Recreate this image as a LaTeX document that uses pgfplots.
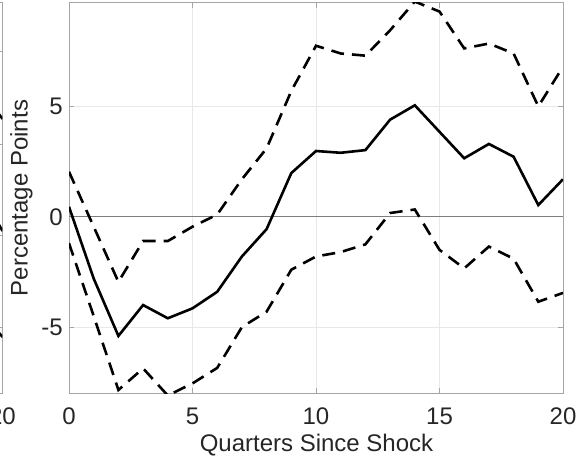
\documentclass[border=0pt]{standalone}
\usepackage{pgfplots}
\pgfplotsset{compat=1.18}
\usepackage{fontspec}
\setmainfont{Liberation Sans}
\definecolor{boxc}{RGB}{165,165,165}
\definecolor{gridc}{RGB}{232,232,232}
\definecolor{zeroc}{RGB}{125,125,125}
\definecolor{txtc}{RGB}{38,38,38}
\pgfplotstableread{
x mid upper lower
0 0.45 2.04 -1.2
1 -2.8 -0.45 -4.5
2 -5.4 -2.95 -7.85
3 -4.0 -1.1 -6.87
4 -4.6 -1.1 -8.1
5 -4.15 -0.45 -7.55
6 -3.4 0.1 -6.85
7 -1.8 1.7 -5.0
8 -0.56 3.1 -4.3
9 1.98 5.7 -2.4
10 2.98 7.75 -1.8
11 2.9 7.4 -1.6
12 3.02 7.3 -1.25
13 4.4 8.45 0.17
14 5.05 9.75 0.33
15 3.85 9.3 -1.5
16 2.65 7.63 -2.34
17 3.3 7.85 -1.35
18 2.72 7.4 -1.9
19 0.53 5.0 -3.85
20 1.7 6.8 -3.45
}\irf
\begin{document}
\begin{tikzpicture}
\pgfplotsset{
  mystyle/.style={
    scale only axis, width=247pt, height=195.3pt, anchor=south west,
    axis line style={boxc, line width=0.4pt},
    major tick style={boxc, line width=0.4pt},
    major tick length=2.5pt,
    tick align=inside,
    grid=major,
    major grid style={gridc, line width=0.4pt},
    axis on top=false,
    /pgf/number format/assume math mode=true,
    tick label style={font=\fontsize{12}{14}\selectfont, text=txtc},
    xticklabel style={anchor=base, inner sep=0pt, yshift=-15.8pt},
    yticklabel style={anchor=east, inner sep=0pt, xshift=-3pt},
  }
}
% left partial panel
\begin{axis}[mystyle, at={(-245.75pt,34.35pt)},
  xmin=0, xmax=20, ymin=-393.3, ymax=-2.7,
  xtick={0,5,10,15,20}, ytick={-51,-144,-235,-327}, yticklabels={},
]
\addplot[black, line width=1.25pt] coordinates {(19.8,-112) (20,-119)};
\addplot[black, line width=1.25pt] coordinates {(19.8,-222) (20,-231)};
\addplot[black, line width=1.25pt] coordinates {(19.8,-331) (20,-337)};
\end{axis}
% main panel
\begin{axis}[mystyle, at={(34.5pt,34.35pt)},
  xmin=0, xmax=20, ymin=-8, ymax=9.7,
  xtick={0,5,10,15,20}, ytick={-5,0,5},
  xlabel={Quarters Since Shock},
  ylabel={Percentage Points},
  label style={font=\fontsize{12}{14}\selectfont, text=txtc},
  xlabel style={at={(axis description cs:0.501,-0.148)}, anchor=base, inner sep=0pt},
  ylabel style={at={(axis description cs:-0.0729,0.5)}, anchor=south, inner sep=0pt, rotate=0},
]
\addplot[zeroc, line width=0.5pt] coordinates {(0,0) (20,0)};
\addplot[black, line width=1.3pt] table[x=x, y=mid] {\irf};
\addplot[black, line width=1.3pt, dash pattern=on 6.5pt off 4pt] table[x=x, y=upper] {\irf};
\addplot[black, line width=1.3pt, dash pattern=on 6.5pt off 4pt] table[x=x, y=lower] {\irf};
\end{axis}
\pgfresetboundingbox
\useasboundingbox (0,0) rectangle (291pt,231pt);
\end{tikzpicture}
\end{document}
